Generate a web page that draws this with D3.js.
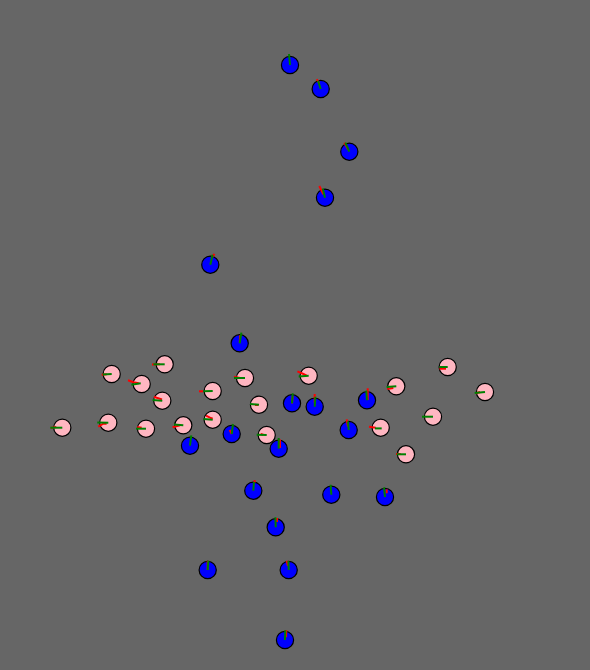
<!DOCTYPE html>
<html><head><meta charset="utf-8">
<script src="https://cdn.jsdelivr.net/npm/d3@7"></script>
<style>html,body{margin:0;padding:0;background:#666666;}svg{display:block;}</style>
</head><body>
<script>
// Blue group positions (data units)
const blueX = [-0.05,0.257,0.543,0.30,-0.847,-0.553,-0.03,0.197,0.72,0.537,-0.633,-1.05,-0.163,-0.417,0.363,0.90,-0.193,-0.873,-0.063,-0.10];
const blueY = [2.70,2.46,1.833,1.373,0.703,-0.083,-0.683,-0.717,-0.653,-0.95,-0.99,-1.107,-1.137,-1.557,-1.597,-1.62,-1.923,-2.35,-2.35,-3.05];
// Pink group positions (data units)
const pinkX = [-1.303,-1.833,-1.533,-1.327,-2.327,-1.867,-1.49,-1.117,-0.823,-0.50,0.137,-0.823,-0.36,-0.283,1.527,1.013,1.90,1.38,0.857,1.11];
const pinkY = [-0.293,-0.39,-0.49,-0.657,-0.927,-0.877,-0.937,-0.903,-0.56,-0.43,-0.407,-0.847,-0.697,-1.00,-0.32,-0.513,-0.57,-0.817,-0.927,-1.193];
// Glyph vectors (offsets in hundredths of a data unit): green and red polylines
const blueGreen = [[[0,0],[-1,-11]],[[0,0],[-2.7,-8.3]],[[0,0],[-4,-9]],[[0,0],[-2.3,-9.3]],[[0,0],[2.3,-10]],
  [[0,0],[1.7,-10.7]],[[0,0],[0.7,-10]],[[0,0],[0.7,-10]],[[0,0],[-0.7,-9.7]],[[0,0],[-0.7,-8.7]],
  [[0,0],[1.3,-10]],[[0,0],[1.3,-10.3]],[[0,0],[0,-10.7]],[[0,0],[0.7,-8.7]],[[0,0],[-0.7,-10]],
  [[0,0],[-1,-9.7]],[[0,0],[-0.3,-10]],[[0,0],[0.7,-9.3]],[[0,0],[-0.3,-9]],[[0,0],[0.3,-9.7]]];
const blueRed = [[[0,0],[0,0]],[[-4,-9.7],[-1.3,-5.7]],[[-5,-9],[-1,-2]],[[-5.7,-11.7],[-1.7,-3.4]],[[1.7,-7.7],[4.3,-10.7]],
  [[0.5,-8],[0,-1]],[[0.7,-7.3],[0,0]],[[0,-12.7],[0,-4]],[[0.7,-12],[0.7,-0.3]],[[-2,-10.7],[-0.7,-3.3]],
  [[-2,-4],[0,0]],[[0,0],[0,0]],[[1.3,-9.3],[1.3,-0.7]],[[1.3,-10.7],[1.3,-8]],[[0,0],[0,0]],
  [[1.7,-7.7],[1.7,-3.7]],[[1.3,-9.3],[1.3,-5.3]],[[0,-9.3],[0,0]],[[-2,-9.3],[-0.7,-4]],[[1.3,-10],[1,-2.7]]];
const pinkGreen = [[[0,0],[-11.3,0]],[[0,0],[-9,0.5]],[[-1,-0.7],[-10.3,0.7]],[[0,0],[-9.7,-0.7]],[[0,0],[-12,0]],
  [[0,0],[-11,-0.3]],[[0,0],[-10,0]],[[0,0],[-9.3,-0.7]],[[0,0],[-9.3,0.3]],[[0,0],[-11,0]],
  [[0,0],[-10,0.7]],[[0,0],[-9.3,-0.7]],[[0,0],[-9,-0.7]],[[0,0],[-10,-0.3]],[[0,0],[-8.3,0]],
  [[0,0],[-9.7,0.7]],[[0,0],[-10.3,1]],[[0,0],[-11,0]],[[1,0.7],[-5.7,0.7]],[[0,0],[-9.3,0]]];
const pinkRed = [[[-12.7,0.3],[-4.7,0]],[[-10,0.7],[-5,0.3]],[[-13.7,-3.7],[-8.3,-1.7],[-3,-0.7]],[[-8.3,-4],[-5.7,-3],[-0.3,-1.3]],[[-11.7,0.3],[-6,-0.7]],
  [[-10,4],[-5,1],[-1.7,1]],[[-8.7,-1.7],[-4.3,-1]],[[-10.7,2],[-3.3,0]],[[-13.7,0.3],[-9.7,0.3]],[[-11,-1.3],[-5,0]],
  [[-11.3,-4.3],[-5.3,-1.7],[-2,0]],[[-6.7,-4],[-2.7,-2],[0,-1]],[[-4,0.3],[-0.7,0.3]],[[-6,-1],[-3.3,-0.3]],[[-8.3,1.7],[-1.7,1.7]],
  [[-9,2.7],[-3,1.7]],[[-9,1.3],[-5,0]],[[0,0],[0,0]],[[-11.7,-1],[-5,0]],[[-10,-0.3],[-5.3,-0.3]]];

const W = 590, H = 670;
const xs = d3.scaleLinear().domain([-2.95, 2.95]).range([0, W]);
const ys = d3.scaleLinear().domain([3.35, -3.35]).range([0, H]);
const svg = d3.select("body").append("svg").attr("width", W).attr("height", H);
svg.append("rect").attr("width", W).attr("height", H).attr("fill", "#666666");

function build(X, Y, G, R, fill) {
  return X.map((x, i) => ({x, y: Y[i], g: G[i], r: R[i], fill}));
}
const data = build(pinkX, pinkY, pinkGreen, pinkRed, "#ffb6c1")
  .concat(build(blueX, blueY, blueGreen, blueRed, "#0000ff"));

const line = d3.line();
const groups = svg.selectAll("g.m").data(data).join("g").attr("class", "m");
groups.append("circle")
  .attr("cx", d => xs(d.x)).attr("cy", d => ys(d.y)).attr("r", 8.6)
  .attr("fill", d => d.fill).attr("stroke", "#000").attr("stroke-width", 1.2);
const pts = d => p => [xs(d.x + p[0] / 100), ys(d.y - p[1] / 100)];
groups.append("path")
  .attr("d", d => line(d.r.map(pts(d))))
  .attr("fill", "none").attr("stroke", "#ff0000").attr("stroke-width", 2);
groups.append("path")
  .attr("d", d => line(d.g.map(pts(d))))
  .attr("fill", "none").attr("stroke", "#008000").attr("stroke-width", 2);
</script>
</body></html>
